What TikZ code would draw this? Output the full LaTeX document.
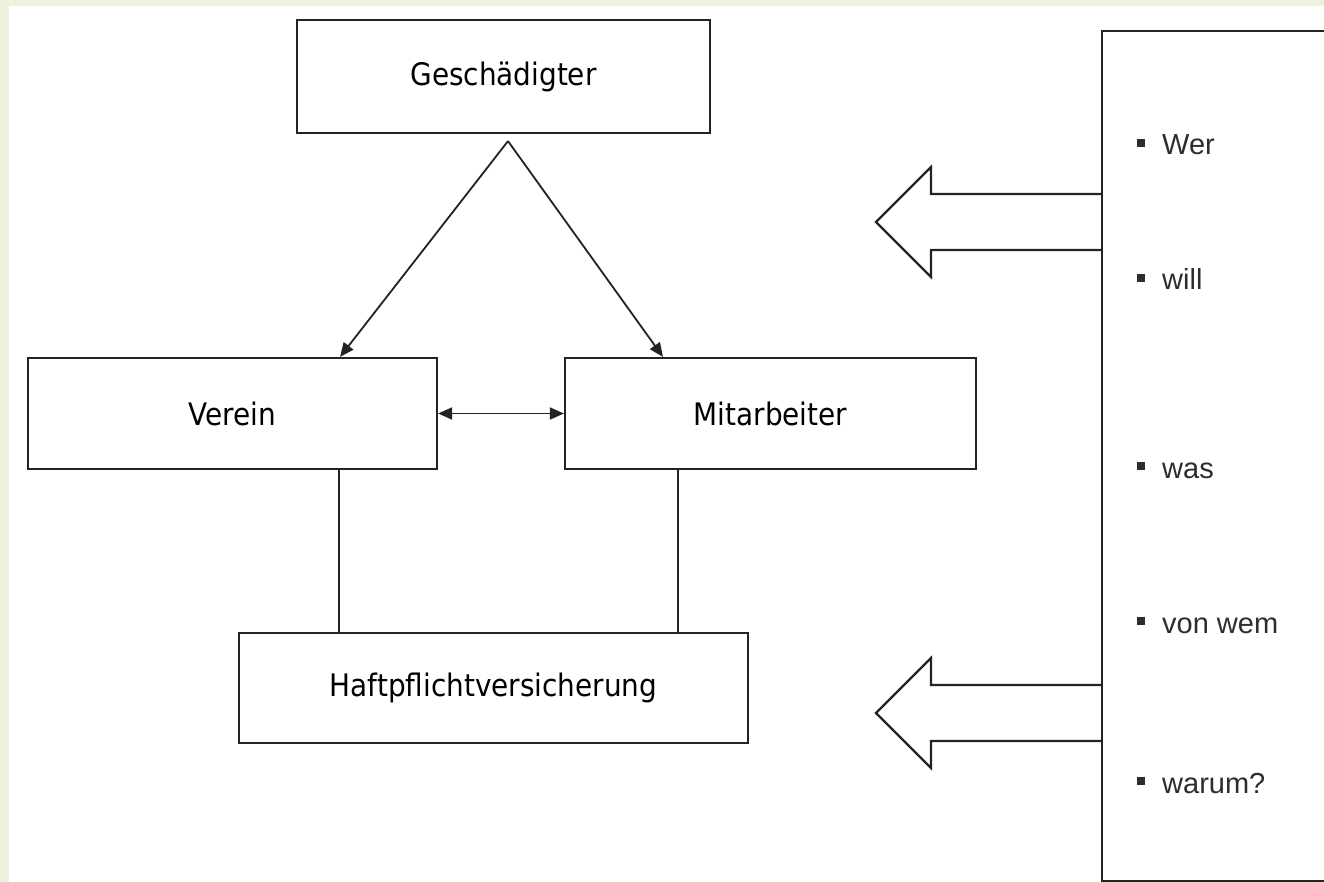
\documentclass[tikz,border=0pt]{standalone}
\usepackage{fontspec}
\setmainfont{DejaVu Sans Condensed}
\newfontfamily\listfont{Liberation Sans}
\usetikzlibrary{positioning,arrows.meta}

\definecolor{pagebg}{RGB}{238,241,222}
\definecolor{linegray}{RGB}{35,35,35}
\definecolor{listgray}{RGB}{45,45,45}

\begin{document}
\begin{tikzpicture}[x=1pt, y=-1pt,
  every node/.style={font=\fontsize{31}{36}\selectfont},
  box/.style={draw=linegray, line width=2.2pt, inner sep=0pt,
              align=center, text=black},
  arr/.style={-{Triangle[length=14pt,width=12pt]}, line width=1.8pt, draw=linegray},
  link/.style={line width=2pt, draw=linegray},
  blk/.style={draw=linegray, line width=2.2pt, fill=white, line join=miter},
  item/.style={anchor=base west, inner sep=0pt, text=listgray,
               font=\listfont\fontsize{29}{34}\selectfont}
]

%% --- Page -----------------------------------------------------
\useasboundingbox (0,0) rectangle (1324,882);
\fill[pagebg] (0,0) rectangle (1324,882);
\fill[white] (9,6) rectangle (1324,882);

%% --- Boxes ----------------------------------------------------
\node[box, minimum width=413pt, minimum height=113pt] (gesch)
     at (503.5,76.5) {Geschädigter};

\node[box, minimum width=409pt, minimum height=111pt] (verein)
     at (232.5,413.5) {Verein};

\node[box, minimum width=411pt, minimum height=111pt] (mitarb)
     at (770.5,413.5) {Mitarbeiter};

\node[box, minimum width=509pt, minimum height=110pt] (haft)
     at (493.5,688) {Haftpflichtversicherung};

%% --- Connectors -----------------------------------------------
\coordinate (apex) at ([xshift=4.5pt,yshift=-7pt]gesch.south);
\draw[arr] (apex) -- ([xshift=107.5pt]verein.north);
\draw[arr] (apex) -- ([xshift=-107.5pt]mitarb.north);

\draw[arr, {Triangle[length=14pt,width=12pt]}-{Triangle[length=14pt,width=12pt]}]
  (verein.east) -- (mitarb.west);

\draw[link] ([xshift=106.5pt]verein.south) -- ([xshift=106.5pt]verein.south |- haft.north);
\draw[link] ([xshift=-92.5pt]mitarb.south) -- ([xshift=-92.5pt]mitarb.south |- haft.north);

%% --- Question box ---------------------------------------------
\foreach \ay in {222,713}
  \draw[blk] (1101,\ay-28) -- (931,\ay-28) -- (931,\ay-55) -- (876,\ay)
             -- (931,\ay+55) -- (931,\ay+28) -- (1101,\ay+28);

\node[box, anchor=north west, minimum width=320pt, minimum height=850pt] (qbox)
     at (1101,30) {};

\foreach \qy/\qt in {155/Wer, 290/will, 478/was, 633/von wem, 793/warum?}
  \node[item] (q\qy) at (1137,\qy) {\rule[8pt]{8pt}{8pt}\hspace{17pt}\qt};

\end{tikzpicture}
\end{document}
